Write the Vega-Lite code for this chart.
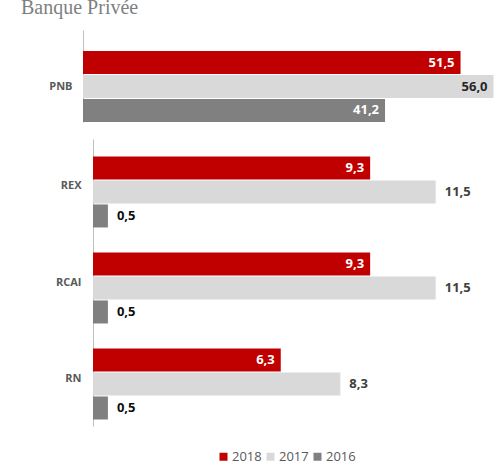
{
  "$schema": "https://vega.github.io/schema/vega-lite/v6.json",
  "padding": {"left": 5, "right": 5, "top": -2, "bottom": 2},
  "background": "white",
  "title": {"text": "Banque Privée", "anchor": "start", "font": "Liberation Serif", "fontSize": 20, "fontWeight": "normal", "color": "#7F7F7F", "dx": 16, "dy": -4, "offset": 8},
  "config": {
    "view": {"stroke": null},
    "font": "Open Sans"
  },
  "data": {"values": [
    {"metric": "PNB", "year": "2018", "value": 51.5},
    {"metric": "PNB", "year": "2017", "value": 56.0},
    {"metric": "PNB", "year": "2016", "value": 41.2},
    {"metric": "REX", "year": "2018", "value": 9.3},
    {"metric": "REX", "year": "2017", "value": 11.5},
    {"metric": "REX", "year": "2016", "value": 0.5},
    {"metric": "RCAI", "year": "2018", "value": 9.3},
    {"metric": "RCAI", "year": "2017", "value": 11.5},
    {"metric": "RCAI", "year": "2016", "value": 0.5},
    {"metric": "RN", "year": "2018", "value": 6.3},
    {"metric": "RN", "year": "2017", "value": 8.3},
    {"metric": "RN", "year": "2016", "value": 0.5}
  ]},
  "transform": [{"calculate": "replace(format(datum.value, '.1f'), '.', ',')", "as": "label"}],
  "spacing": 17,
  "resolve": {"scale": {"x": "independent", "y": "independent"}},
  "vconcat": [
    {
      "width": 412,
      "height": 92,
      "transform": [{"filter": "datum.metric=='PNB'"}],
      "encoding": {
        "y": {"field": "metric", "type": "nominal", "title": null, "scale": {"paddingInner": 0, "paddingOuter": 0.148, "align": 1}, "axis": {"domain": true, "domainColor": "#BFBFBF", "ticks": false, "labelPadding": 11, "minExtent": 78, "maxExtent": 78, "labelFont": "Open Sans", "labelFontSize": 11, "labelFontWeight": "bold", "labelColor": "#595959"}},
        "yOffset": {"field": "year", "type": "nominal", "sort": ["2018", "2017", "2016"], "scale": {"paddingInner": 0.04}},
        "x": {"field": "value", "type": "quantitative", "scale": {"domain": [0, 56.2], "nice": false}, "axis": null}
      },
      "layer": [
        {
          "mark": {"type": "bar"},
          "encoding": {
            "color": {"field": "year", "type": "nominal", "scale": {"domain": ["2018", "2017", "2016"], "range": ["#C00000", "#D9D9D9", "#808080"]}, "legend": {"title": null, "orient": "none", "legendX": 134, "legendY": 420, "direction": "horizontal", "symbolType": "square", "symbolSize": 64, "symbolStrokeWidth": 0, "labelFont": "Open Sans", "labelFontSize": 13, "labelColor": "#595959", "columnPadding": 2, "labelOffset": 2, "padding": 0}}
          }
        },
        {
          "mark": {"type": "text", "align": "right", "dx": -6, "fontWeight": "bold", "fontSize": 13, "font": "Open Sans", "baseline": "middle"},
          "encoding": {
            "text": {"field": "label", "type": "nominal"},
            "color": {"condition": {"test": "datum.year=='2017'", "value": "#262626"}, "value": "white"}
          }
        }
      ]
    },
    {
      "width": 412,
      "height": 287,
      "transform": [{"filter": "datum.metric!='PNB'"}],
      "encoding": {
        "y": {"field": "metric", "type": "nominal", "title": null, "sort": ["REX", "RCAI", "RN"], "scale": {"paddingInner": 0.375, "paddingOuter": 0.182}, "axis": {"domain": true, "domainColor": "#BFBFBF", "offset": -10, "ticks": false, "labelPadding": 12, "minExtent": 78, "maxExtent": 78, "labelFont": "Open Sans", "labelFontSize": 11, "labelFontWeight": "bold", "labelColor": "#595959"}},
        "yOffset": {"field": "year", "type": "nominal", "sort": ["2018", "2017", "2016"], "scale": {"paddingInner": 0.04}},
        "x": {"field": "value", "type": "quantitative", "scale": {"domain": [-0.336, 13.49], "nice": false}, "axis": null}
      },
      "layer": [
        {
          "mark": {"type": "bar"},
          "encoding": {
            "color": {"field": "year", "type": "nominal", "scale": {"domain": ["2018", "2017", "2016"], "range": ["#C00000", "#D9D9D9", "#808080"]}, "legend": {"title": null, "orient": "none", "legendX": 134, "legendY": 420, "direction": "horizontal", "symbolType": "square", "symbolSize": 64, "symbolStrokeWidth": 0, "labelFont": "Open Sans", "labelFontSize": 13, "labelColor": "#595959", "columnPadding": 2, "labelOffset": 2, "padding": 0}}
          }
        },
        {
          "transform": [{"filter": "datum.year=='2018'"}],
          "mark": {"type": "text", "align": "right", "dx": -6, "fontWeight": "bold", "fontSize": 13, "font": "Open Sans", "baseline": "middle", "color": "white"},
          "encoding": {
            "text": {"field": "label", "type": "nominal"}
          }
        },
        {
          "transform": [{"filter": "datum.year!='2018'"}],
          "mark": {"type": "text", "align": "left", "dx": 9, "fontWeight": "bold", "fontSize": 13, "font": "Open Sans", "baseline": "middle"},
          "encoding": {
            "text": {"field": "label", "type": "nominal"},
            "color": {"condition": {"test": "datum.year=='2017'", "value": "#404040"}, "value": "#0D0D0D"}
          }
        }
      ]
    }
  ]
}
